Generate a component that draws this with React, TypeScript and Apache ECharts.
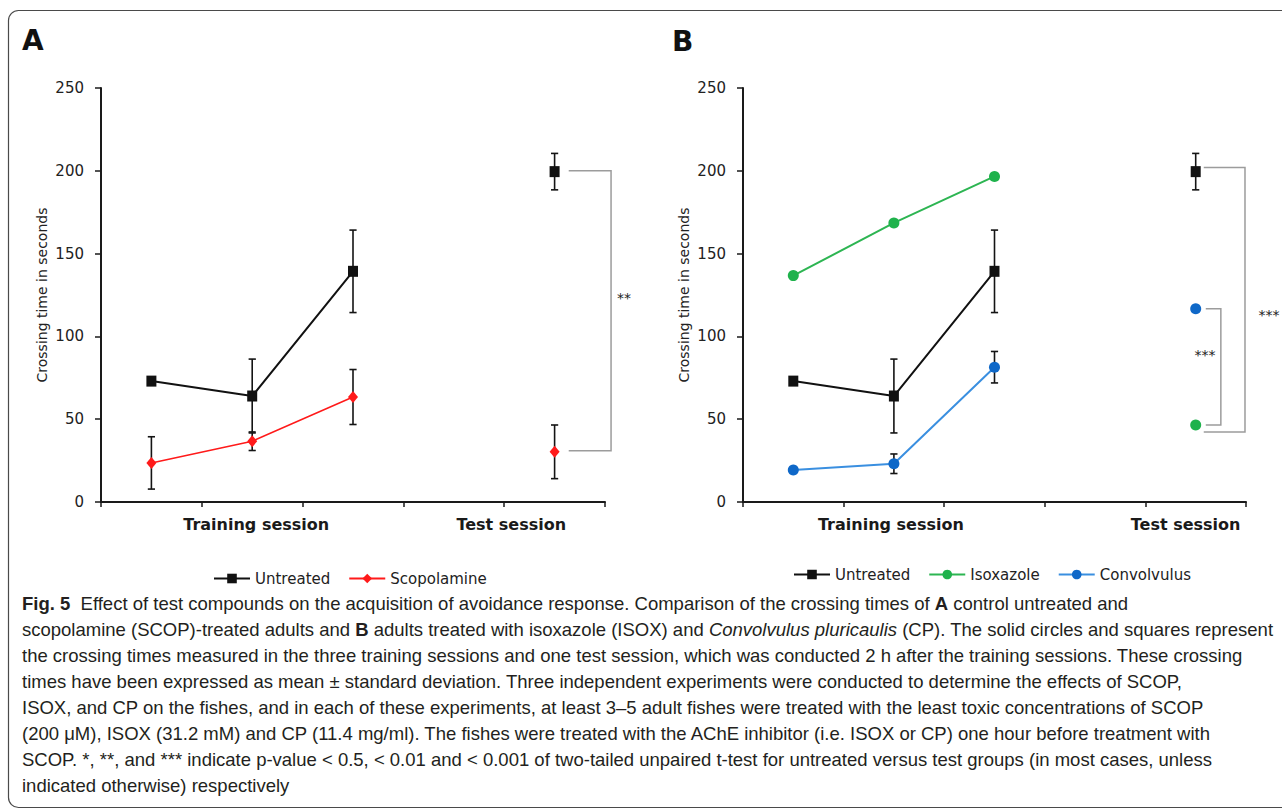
import React, { useEffect, useRef } from 'react';
import * as echarts from 'echarts';

// ---- data ----
const sessions = [0.5, 1.5, 2.5, 4.5]; // three training sessions + test session
const untreatedMean = [73, 64, 139.3, 199.5];
const untreatedSd = [0, 22.3, 24.9, 11];
const scopMean = [23.6, 36.7, 63.4, 30.3];
const scopSd = [15.8, 5.6, 16.6, 16.2];
const isoxMean = [136.7, 168.5, 196.6, 46.5];
const convMean = [19.3, 23.1, 81.4, 116.7];
const convSd = [0, 5.9, 9.5, 0];
const xLabels = ['Training session', 'Test session'];
const xLabelPosA = [1.54, 4.07];
const xLabelPosB = [1.47, 4.4];
const yMin = 0;
const yMax = 250;
const yInterval = 50;
// brackets: [left x, right x, top y, bottom y]
const bracketA = [4.64, 5.06, 200, 31];
const bracketBInner = [4.6, 4.75, 116.7, 46.5];
const bracketBOuter = [4.58, 4.99, 202, 42.3];

const captionLines = [
  '{b|Fig. 5}  Effect of test compounds on the acquisition of avoidance response. Comparison of the crossing times of {b|A} control untreated and',
  'scopolamine (SCOP)-treated adults and {b|B} adults treated with isoxazole (ISOX) and {i|Convolvulus pluricaulis} (CP). The solid circles and squares represent',
  'the crossing times measured in the three training sessions and one test session, which was conducted 2 h after the training sessions. These crossing',
  'times have been expressed as mean ± standard deviation. Three independent experiments were conducted to determine the effects of SCOP,',
  'ISOX, and CP on the fishes, and in each of these experiments, at least 3–5 adult fishes were treated with the least toxic concentrations of SCOP',
  '(200 μM), ISOX (31.2 mM) and CP (11.4 mg/ml). The fishes were treated with the AChE inhibitor (i.e. ISOX or CP) one hour before treatment with',
  'SCOP. *, **, and *** indicate p-value < 0.5, < 0.01 and < 0.001 of two-tailed unpaired t-test for untreated versus test groups (in most cases, unless',
  'indicated otherwise) respectively',
];

const pts = (mean: number[], idx: number[]) => idx.map((i) => [sessions[i], mean[i]]);
const errs = (mean: number[], sd: number[]) =>
  sessions
    .map((x, i) => [x, mean[i] - sd[i], mean[i] + sd[i], sd[i]])
    .filter((d) => d[3] > 0)
    .map((d) => [d[0], d[1], d[2]]);

const AXIS = '#1a1a1a';
const FONT = 'DejaVu Sans';
const CAP_FONT = 'Liberation Sans';
const CAP_SIZE = 18.5;

function mkX(gridIndex: number, pos: number[]) {
  return {
    type: 'value',
    gridIndex,
    min: 0,
    max: 5,
    interval: 1,
    axisLine: { show: true, onZero: false, lineStyle: { color: AXIS, width: 2 } },
    axisTick: { show: true, length: 5, lineStyle: { color: AXIS, width: 1.5 } },
    splitLine: { show: false },
    axisLabel: {
      customValues: pos,
      formatter: (v: number) => (v < 3 ? xLabels[0] : xLabels[1]),
      fontWeight: 'bold',
      fontSize: 16,
      fontFamily: FONT,
      color: '#1a1a1a',
      margin: 14,
    },
  };
}

function mkY(gridIndex: number) {
  return {
    type: 'value',
    gridIndex,
    min: yMin,
    max: yMax,
    interval: yInterval,
    name: 'Crossing time in seconds',
    nameLocation: 'middle',
    nameGap: 52,
    nameTextStyle: { fontSize: 14, color: '#222', fontFamily: FONT },
    axisLine: { show: true, lineStyle: { color: AXIS, width: 2 } },
    axisTick: { show: true, length: 6, lineStyle: { color: AXIS, width: 1.5 } },
    axisLabel: { fontSize: 15, color: '#222', margin: 17, fontFamily: FONT },
    splitLine: { show: false },
  };
}

function lineSeries(
  name: string,
  axis: number,
  data: number[][],
  symbol: string,
  symbolSize: any,
  lineColor: string,
  itemColor: string,
  width: number
) {
  return {
    type: 'line',
    name,
    xAxisIndex: axis,
    yAxisIndex: axis,
    data,
    symbol,
    symbolSize,
    showSymbol: true,
    lineStyle: { color: lineColor, width },
    itemStyle: { color: itemColor },
    z: 3,
  };
}

function errSeries(name: string, axis: number, data: number[][]) {
  return {
    type: 'custom',
    name,
    xAxisIndex: axis,
    yAxisIndex: axis,
    data,
    z: 2,
    silent: true,
    encode: { x: 0, y: [1, 2] },
    renderItem: (params: any, api: any) => {
      const x = api.value(0);
      const lo = api.coord([x, api.value(1)]);
      const hi = api.coord([x, api.value(2)]);
      const w = 3.6;
      const st = { stroke: '#141414', lineWidth: 1.6 };
      return {
        type: 'group',
        children: [
          { type: 'line', shape: { x1: hi[0], y1: hi[1], x2: lo[0], y2: lo[1] }, style: st },
          { type: 'line', shape: { x1: hi[0] - w, y1: hi[1], x2: hi[0] + w, y2: hi[1] }, style: st },
          { type: 'line', shape: { x1: lo[0] - w, y1: lo[1], x2: lo[0] + w, y2: lo[1] }, style: st },
        ],
      };
    },
  };
}

function bracketSeries(name: string, axis: number, data: number[][]) {
  return {
    type: 'custom',
    name,
    xAxisIndex: axis,
    yAxisIndex: axis,
    data,
    clip: false,
    silent: true,
    z: 1,
    encode: { x: [0, 1], y: [2, 3] },
    renderItem: (params: any, api: any) => {
      const x1 = api.value(0);
      const x2 = api.value(1);
      const yt = api.value(2);
      const yb = api.value(3);
      return {
        type: 'polyline',
        shape: {
          points: [api.coord([x1, yt]), api.coord([x2, yt]), api.coord([x2, yb]), api.coord([x1, yb])],
        },
        style: { stroke: '#9c9c9c', lineWidth: 1.5, fill: 'none' },
      };
    },
  };
}

const BLACK = '#111111';
const RED = '#ff1a1a';
const GREEN_L = '#2db552';
const GREEN_M = '#1fb24c';
const BLUE_L = '#3a8fe0';
const BLUE_M = '#0f68c8';

const legendBase = {
  padding: 0,
  itemWidth: 36,
  itemHeight: 12,
  itemGap: 18,
  textStyle: { fontSize: 15, color: '#222', fontFamily: FONT },
};

const option: any = {
  animation: false,
  backgroundColor: '#ffffff',
  textStyle: { fontFamily: FONT },
  grid: [
    { left: 101, top: 88, width: 504, height: 414 },
    { left: 743, top: 88, width: 503, height: 414 },
  ],
  xAxis: [mkX(0, xLabelPosA), mkX(1, xLabelPosB)],
  yAxis: [mkY(0), mkY(1)],
  legend: [
    { ...legendBase, left: 213, top: 571, data: ['Untreated', 'Scopolamine'] },
    { ...legendBase, left: 793, top: 567, data: ['Untreated', 'Isoxazole', 'Convolvulus'] },
  ],
  series: [
    // Panel A
    bracketSeries('bracketA', 0, [bracketA]),
    errSeries('errA', 0, [...errs(untreatedMean, untreatedSd), ...errs(scopMean, scopSd)]),
    lineSeries('Untreated', 0, pts(untreatedMean, [0, 1, 2]), 'rect', [10, 11], BLACK, BLACK, 2),
    lineSeries('Untreated', 0, pts(untreatedMean, [3]), 'rect', [10, 11], BLACK, BLACK, 2),
    lineSeries('Scopolamine', 0, pts(scopMean, [0, 1, 2]), 'diamond', [10, 12], RED, RED, 1.6),
    lineSeries('Scopolamine', 0, pts(scopMean, [3]), 'diamond', [10, 12], RED, RED, 1.6),
    // Panel B
    bracketSeries('bracketB', 1, [bracketBInner, bracketBOuter]),
    errSeries('errB', 1, [...errs(untreatedMean, untreatedSd), ...errs(convMean, convSd)]),
    lineSeries('Untreated', 1, pts(untreatedMean, [0, 1, 2]), 'rect', [10, 11], BLACK, BLACK, 2),
    lineSeries('Untreated', 1, pts(untreatedMean, [3]), 'rect', [10, 11], BLACK, BLACK, 2),
    lineSeries('Isoxazole', 1, pts(isoxMean, [0, 1, 2]), 'circle', 11, GREEN_L, GREEN_M, 2),
    lineSeries('Isoxazole', 1, pts(isoxMean, [3]), 'circle', 11, GREEN_L, GREEN_M, 2),
    lineSeries('Convolvulus', 1, pts(convMean, [0, 1, 2]), 'circle', 11, BLUE_L, BLUE_M, 2),
    lineSeries('Convolvulus', 1, pts(convMean, [3]), 'circle', 11, BLUE_L, BLUE_M, 2),
  ],
  graphic: [
    {
      type: 'rect',
      z: -10,
      shape: { x: 8.5, y: 10.5, width: 1300, height: 797, r: 10 },
      style: { fill: 'none', stroke: '#4a4a4a', lineWidth: 1.2 },
    },
    {
      type: 'text',
      x: 22,
      y: 40,
      style: { text: 'A', fontSize: 28, fontWeight: 'bold', fontFamily: FONT, fill: '#111', textVerticalAlign: 'middle' },
    },
    {
      type: 'text',
      x: 672,
      y: 41,
      style: { text: 'B', fontSize: 28, fontWeight: 'bold', fontFamily: FONT, fill: '#111', textVerticalAlign: 'middle' },
    },
    {
      type: 'text',
      x: 624,
      y: 298,
      style: { text: '**', fontSize: 14, fontFamily: FONT, fill: '#222', textAlign: 'center', textVerticalAlign: 'middle' },
    },
    {
      type: 'text',
      x: 1205,
      y: 355,
      style: { text: '***', fontSize: 14, fontFamily: FONT, fill: '#222', textAlign: 'center', textVerticalAlign: 'middle' },
    },
    {
      type: 'text',
      x: 1269,
      y: 315,
      style: { text: '***', fontSize: 14, fontFamily: FONT, fill: '#222', textAlign: 'center', textVerticalAlign: 'middle' },
    },
    ...captionLines.map((t, i) => ({
      type: 'text',
      x: 22,
      y: 603 + i * 26.1,
      style: {
        text: t,
        fontSize: CAP_SIZE,
        fontFamily: CAP_FONT,
        fill: '#231f20',
        textVerticalAlign: 'middle',
        rich: {
          b: { fontSize: CAP_SIZE, fontFamily: CAP_FONT, fontWeight: 'bold', fill: '#231f20' },
          i: { fontSize: CAP_SIZE, fontFamily: CAP_FONT, fontStyle: 'italic', fill: '#231f20' },
        },
      },
    })),
  ],
};

export default function App() {
  const ref = useRef<HTMLDivElement>(null);
  useEffect(() => {
    const chart = echarts.init(ref.current!, null, { renderer: 'svg' });
    chart.setOption(option);
    return () => chart.dispose();
  }, []);
  return (
    <div
      ref={ref}
      style={{ position: 'fixed', left: 0, top: 0, width: 1282, height: 812, background: '#fff' }}
    />
  );
}
